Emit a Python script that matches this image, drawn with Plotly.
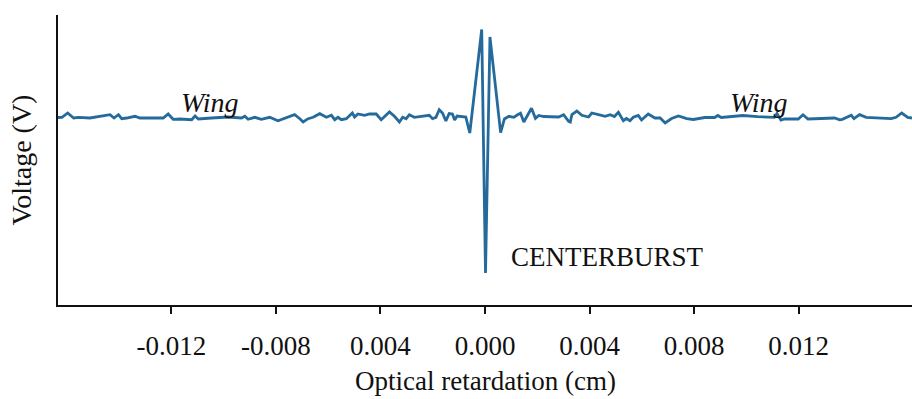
import plotly.graph_objects as go

# Optical retardation (cm) and detector voltage (arbitrary V offset)
retardation = [
    -0.016343, -0.016190, -0.015973, -0.015745, -0.015554, -0.015124, -0.014350, -0.014198,
    -0.014030, -0.013905, -0.013714, -0.013398, -0.013208, -0.012316, -0.012126, -0.011935,
    -0.011684, -0.011227, -0.011097, -0.010971, -0.010465, -0.009829, -0.009322, -0.009192,
    -0.009067, -0.008812, -0.008560, -0.008240, -0.007924, -0.007543, -0.007288, -0.007097,
    -0.006960, -0.006770, -0.006579, -0.006324, -0.006069, -0.005878, -0.005752, -0.005627,
    -0.005497, -0.005307, -0.005078, -0.004990, -0.004865, -0.004610, -0.004419, -0.004164,
    -0.003973, -0.003657, -0.003467, -0.003276, -0.003150, -0.003021, -0.002895, -0.002705,
    -0.002389, -0.002133, -0.002008, -0.001878, -0.001752, -0.001627, -0.001497, -0.001371,
    -0.001246, -0.001162, -0.001067, -0.000735, -0.000583, -0.000126, 0.000019, 0.000190,
    0.000598, 0.000743, 0.000914, 0.001105, 0.001230, 0.001360, 0.001486, 0.001600,
    0.001779, 0.001931, 0.002057, 0.002248, 0.002819, 0.003010, 0.003200, 0.003265,
    0.003326, 0.003516, 0.003707, 0.003962, 0.004088, 0.004343, 0.004598, 0.004789,
    0.004952, 0.005105, 0.005295, 0.005410, 0.005550, 0.005676, 0.005867, 0.005992,
    0.006248, 0.006503, 0.006705, 0.006895, 0.007143, 0.007402, 0.007722, 0.007973,
    0.008408, 0.008789, 0.008914, 0.009040, 0.009627, 0.009867, 0.010438, 0.011074,
    0.011173, 0.011326, 0.011467, 0.011989, 0.012171, 0.012362, 0.013383, 0.013573,
    0.013676, 0.014019, 0.014122, 0.014335, 0.014590, 0.015543, 0.015733, 0.015950,
    0.016179, 0.016343,
]
voltage = [
    0.000, 0.002, 0.045, -0.005, 0.002, -0.005, 0.028, -0.005,
    0.028, -0.012, -0.005, 0.012, -0.005, -0.005, 0.035, -0.018,
    -0.015, -0.022, 0.015, -0.015, -0.005, 0.005, -0.005, 0.012,
    -0.018, 0.002, -0.018, 0.002, -0.032, 0.002, 0.028, -0.010,
    -0.045, -0.012, 0.002, 0.038, 0.002, 0.022, -0.022, 0.002,
    -0.022, -0.012, 0.045, 0.005, 0.035, 0.022, 0.035, 0.035,
    -0.022, 0.055, 0.012, -0.045, 0.002, -0.012, 0.028, 0.002,
    0.012, 0.022, -0.012, 0.002, 0.078, 0.045, -0.035, 0.040,
    0.035, -0.025, 0.015, 0.005, -0.155, 0.880, -1.555, 0.805,
    -0.152, -0.015, 0.012, 0.002, 0.025, 0.042, -0.045, 0.005,
    0.092, -0.008, 0.020, 0.010, 0.005, 0.028, -0.038, -0.045,
    0.030, 0.065, 0.022, 0.005, 0.045, 0.028, 0.012, 0.028,
    0.010, 0.052, -0.032, -0.010, -0.032, 0.002, 0.020, -0.025,
    0.035, -0.005, -0.005, -0.055, -0.010, 0.015, -0.012, -0.020,
    0.000, 0.000, 0.020, 0.000, 0.012, 0.020, 0.008, 0.002,
    0.040, -0.025, -0.015, -0.015, 0.027, -0.015, -0.005, -0.022,
    -0.018, 0.022, -0.012, 0.028, 0.002, -0.012, 0.002, 0.045,
    0.002, -0.005,
]

tick_values = [-0.012, -0.008, -0.004, 0.000, 0.004, 0.008, 0.012]
tick_labels = ["-0.012", "-0.008", "0.004", "0.000", "0.004", "0.008", "0.012"]

FONT = "Liberation Serif"
INK = "#111111"

fig = go.Figure()
fig.add_trace(go.Scatter(
    x=retardation, y=voltage, mode="lines",
    line=dict(color="#246b9c", width=2.8),
    showlegend=False, hoverinfo="skip",
))

fig.add_annotation(x=-0.010514, y=0.155, text="<i>Wing</i>", showarrow=False,
                   font=dict(family=FONT, size=28, color=INK))
fig.add_annotation(x=0.010476, y=0.155, text="<i>Wing</i>", showarrow=False,
                   font=dict(family=FONT, size=28, color=INK))
fig.add_annotation(x=0.000914, y=-1.395, text="CENTERBURST", showarrow=False,
                   xanchor="left", font=dict(family=FONT, size=27, color=INK))
# x-axis title placed as a paper annotation, low on the page as in the reference
fig.add_annotation(xref="paper", yref="paper", x=0.5, y=-0.318, yanchor="bottom",
                   text="Optical retardation (cm)", showarrow=False, borderpad=0,
                   font=dict(family=FONT, size=27, color=INK))

fig.update_layout(
    width=912, height=399,
    margin=dict(l=58, r=0, t=15, b=94),
    paper_bgcolor="white", plot_bgcolor="white",
    font=dict(family=FONT, size=27, color=INK),
    xaxis=dict(
        range=[-0.016343, 0.016343],
        tickvals=tick_values, ticktext=tick_labels,
        ticks="outside", ticklen=7, tickwidth=2, tickcolor=INK,
        ticklabelstandoff=9,
        showline=True, linecolor=INK, linewidth=2,
        showgrid=False, zeroline=False, automargin=False,
        tickfont=dict(family=FONT, size=27),
    ),
    yaxis=dict(
        range=[-1.875, 1.025],
        showticklabels=False, ticks="",
        showline=True, linecolor=INK, linewidth=2,
        showgrid=False, zeroline=False, automargin=False,
        title=dict(text="Voltage (V)", font=dict(family=FONT, size=28), standoff=16),
    ),
)

fig.write_html("out.html")
